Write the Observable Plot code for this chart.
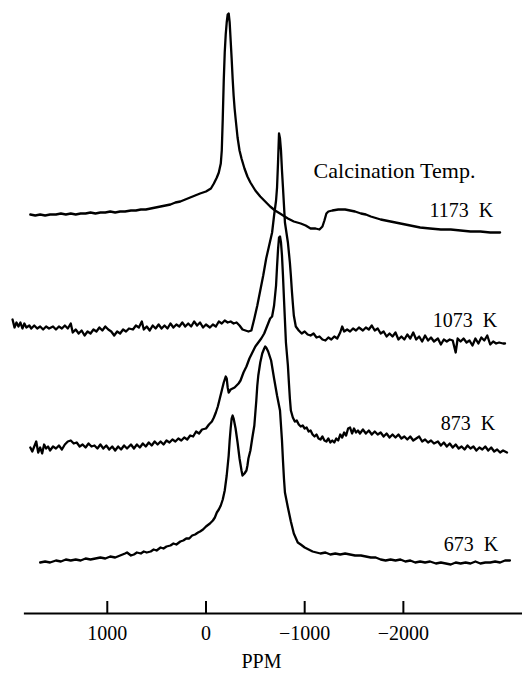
<!DOCTYPE html>
<html><head><meta charset="utf-8">
<script src="https://cdn.jsdelivr.net/npm/d3@7"></script>
<script src="https://cdn.jsdelivr.net/npm/@observablehq/plot@0.6"></script>
<style>html,body{margin:0;padding:0;background:#fff}</style>
</head><body><div id="chart"></div>
<script>
// Spectra labels, vertical offsets of each trace, and label placement
const series = ["1173 K", "1073 K", "873 K", "673 K"];
const offsets = [398, 285, 166, 52];
const labelY = [403, 293, 190, 69];
const labelPpm = [-2910, -2950, -2930, -2960];
const titleText = "Calcination Temp.";
const titlePpm = -1910;
const titleY = 443;
const xTicks = [1000, 0, -1000, -2000];
const xDomain = [2082, -3207];
const axisExtent = [1840, -3207];

// 1173 K
const ppm1173 = [1780,1730,1680,1630,1580,1520,1470,1420,1370,1320,
  1270,1220,1170,1120,1070,1020,970,920,870,820,
  760,710,660,610,560,510,460,410,360,310,
  260,210,160,110,60,0,-50,-80,-110,-130,
  -150,-160,-170,-180,-190,-200,-210,-220,-230,-240,
  -250,-260,-270,-280,-290,-300,-320,-340,-360,-390,
  -420,-450,-500,-550,-600,-650,-700,-750,-830,-890,
  -960,-1010,-1060,-1110,-1150,-1180,-1200,-1220,-1240,-1280,
  -1340,-1410,-1460,-1510,-1570,-1620,-1670,-1770,-1870,-1970,
  -2070,-2170,-2270,-2380,-2480,-2580,-2680,-2780,-2880,-2980];
const int1173 = [1,0,1,0,1,1,2,1,2,1,
  2,2,3,2,3,3,4,3,4,4,
  5,5,6,6,7,8,9,10,11,13,
  14,16,18,20,22,24,27,32,38,43,
  52,65,97,135,163,181,193,201,202,193,
  175,157,137,120,107,97,78,65,57,47,
  39,33,25,19,14,9,5,2,-3,-6,
  -8,-10,-13,-13,-14,-11,-5,2,4,5,
  6,6,5,4,2,1,-1,-4,-6,-8,
  -10,-12,-13,-14,-14,-15,-16,-16,-17,-17];

// 1073 K
const ppm1073 = [1960,1940,1920,1900,1880,1860,1840,1820,1790,1770,
  1740,1710,1680,1650,1620,1590,1550,1520,1490,1460,
  1430,1400,1370,1350,1320,1290,1260,1230,1200,1170,
  1140,1110,1080,1050,1020,990,960,930,900,870,
  840,810,780,740,710,680,650,630,600,570,
  540,510,480,450,420,390,360,330,300,270,
  240,210,180,150,120,90,60,30,0,-40,
  -70,-100,-130,-160,-190,-220,-250,-280,-310,-340,
  -370,-400,-430,-460,-490,-520,-550,-580,-610,-640,
  -670,-690,-710,-720,-730,-740,-750,-760,-770,-780,
  -800,-830,-850,-860,-870,-880,-890,-910,-940,-970,
  -1000,-1030,-1060,-1090,-1120,-1150,-1180,-1210,-1240,-1270,
  -1300,-1330,-1360,-1380,-1400,-1430,-1460,-1490,-1520,-1550,
  -1590,-1620,-1650,-1680,-1710,-1740,-1770,-1800,-1830,-1860,
  -1890,-1920,-1950,-1980,-2010,-2040,-2070,-2100,-2130,-2160,
  -2190,-2220,-2250,-2280,-2310,-2350,-2380,-2410,-2440,-2470,
  -2500,-2530,-2550,-2580,-2610,-2640,-2670,-2700,-2730,-2760,
  -2790,-2820,-2850,-2880,-2910,-2940,-2970,-3010,-3030];
const int1073 = [9,1,6,2,6,0,5,1,3,0,
  3,0,2,-1,2,0,2,-1,2,0,
  3,0,5,-4,-1,-5,-2,-7,-3,-5,
  -1,-3,1,-2,2,-1,-3,-7,-3,-5,
  -1,-3,0,-1,3,1,7,-1,2,-2,
  3,0,4,0,3,0,5,1,4,2,
  6,2,5,2,7,3,6,1,4,1,
  4,2,7,5,8,6,7,5,6,3,
  -1,-2,-3,-2,10,23,38,53,70,83,
  96,113,128,141,166,195,190,178,158,141,
  106,86,66,53,38,25,13,2,-2,-5,
  -3,-6,-7,-5,-9,-8,-11,-12,-9,-11,
  -8,-10,-4,2,-3,-1,-3,0,-2,1,
  -2,1,-1,3,-2,0,-5,-3,-8,-5,
  -8,-4,-11,-8,-11,-6,-10,-4,-11,-8,
  -13,-7,-12,-9,-13,-10,-16,-11,-13,-11,
  -12,-24,-10,-13,-10,-14,-12,-17,-10,-15,
  -9,-12,-7,-16,-13,-15,-14,-15,-15];

// 873 K
const ppm873 = [1780,1760,1740,1720,1700,1680,1660,1640,1620,1600,
  1580,1550,1520,1490,1460,1430,1400,1370,1340,1310,
  1280,1250,1220,1190,1160,1130,1100,1070,1040,1010,
  980,950,920,890,860,830,800,760,730,700,
  670,640,610,580,550,520,490,460,430,400,
  370,340,310,280,250,220,190,160,130,100,
  70,40,0,-30,-60,-80,-100,-120,-140,-160,
  -180,-200,-210,-220,-230,-250,-270,-290,-310,-330,
  -350,-380,-410,-440,-470,-500,-530,-560,-590,-610,
  -630,-650,-670,-690,-710,-720,-730,-740,-750,-760,
  -770,-780,-790,-800,-810,-830,-840,-850,-860,-880,
  -900,-920,-940,-960,-980,-1000,-1020,-1040,-1060,-1080,
  -1100,-1120,-1140,-1160,-1180,-1200,-1220,-1240,-1260,-1280,
  -1300,-1320,-1340,-1360,-1380,-1400,-1420,-1440,-1460,-1480,
  -1500,-1520,-1540,-1560,-1590,-1620,-1650,-1680,-1710,-1740,
  -1770,-1800,-1830,-1860,-1890,-1920,-1950,-1980,-2010,-2040,
  -2070,-2100,-2130,-2160,-2190,-2220,-2250,-2280,-2310,-2350,
  -2380,-2410,-2440,-2470,-2500,-2530,-2560,-2590,-2620,-2650,
  -2680,-2710,-2740,-2770,-2800,-2830,-2860,-2890,-2920,-2950,
  -2980,-3010,-3050];
const int873 = [0,-4,1,6,-5,0,-6,3,-1,1,
  -3,1,-1,2,-2,3,6,7,4,5,
  1,3,0,4,1,2,-1,3,-1,2,
  -2,1,-3,1,-2,2,-1,3,-1,3,
  0,4,1,5,2,6,3,6,3,7,
  5,8,6,9,7,10,8,12,11,16,
  14,18,19,23,26,30,35,41,49,57,
  65,71,69,60,55,58,59,60,62,64,
  67,75,81,89,95,101,105,109,114,119,
  124,129,131,142,162,181,198,210,211,205,
  192,172,149,127,105,82,65,49,37,30,
  26,27,23,21,22,19,20,16,17,13,
  11,13,9,8,11,7,6,9,5,7,
  5,9,7,13,10,15,12,19,20,14,
  19,15,17,14,18,14,17,13,16,13,
  15,11,14,10,13,10,13,9,11,8,
  11,7,9,11,6,8,5,7,4,6,
  2,5,1,4,0,3,-1,1,-2,2,
  -1,1,-3,0,-2,1,-3,0,-4,-2,
  -5,-3,-5];

// 673 K
const ppm673 = [1680,1630,1580,1520,1470,1420,1370,1320,1270,1220,
  1170,1120,1070,1020,970,920,870,820,800,760,
  730,700,660,630,600,560,530,500,460,430,
  400,360,330,300,260,230,200,170,140,110,
  80,60,30,0,-40,-70,-90,-110,-130,-150,
  -170,-190,-210,-230,-240,-250,-260,-270,-280,-300,
  -320,-340,-360,-370,-390,-410,-420,-430,-450,-470,
  -490,-510,-520,-530,-550,-570,-590,-600,-610,-630,
  -660,-690,-720,-750,-770,-780,-790,-800,-830,-860,
  -890,-930,-960,-1000,-1040,-1080,-1120,-1160,-1210,-1260,
  -1310,-1360,-1410,-1460,-1510,-1570,-1620,-1670,-1720,-1770,
  -1820,-1870,-1920,-1970,-2020,-2070,-2120,-2170,-2220,-2270,
  -2330,-2380,-2430,-2480,-2530,-2580,-2630,-2680,-2730,-2780,
  -2830,-2880,-2930,-2980,-3030,-3080];
const int673 = [-1,0,-1,1,0,2,1,2,1,3,
  2,3,4,3,5,4,6,8,9,6,
  7,9,8,10,9,10,12,11,14,13,
  15,16,18,17,20,21,23,23,26,27,
  29,30,32,35,38,41,44,49,52,56,
  62,71,86,106,121,133,143,146,143,133,
  119,103,91,86,88,91,96,103,111,124,
  136,161,176,186,199,208,213,215,214,210,
  201,183,166,151,121,101,83,69,54,40,
  28,19,17,14,12,10,9,8,9,7,
  8,7,8,7,6,6,5,4,4,2,
  1,2,1,2,0,1,-1,0,-1,0,
  -2,-1,-2,-3,-1,-2,-1,-2,0,-2,
  -1,-1,0,-1,1,1];

const spectra = [[ppm1173, int1173], [ppm1073, int1073], [ppm873, int873], [ppm673, int673]];
const rows = [];
spectra.forEach(([p, v], i) => p.forEach((x, j) => rows.push({series: series[i], ppm: x, y: offsets[i] + v[j]})));

const fmt = d => d < 0 ? "\u2212" + Math.abs(d) : String(d);

const chart = Plot.plot({
  width: 522, height: 674,
  marginTop: 0, marginBottom: 61, marginLeft: 0, marginRight: 0,
  style: {background: "#fff", color: "#000", fontFamily: "'Liberation Serif', 'DejaVu Serif', serif"},
  x: {domain: xDomain},
  y: {domain: [0, 613], axis: null},
  marks: [
    Plot.ruleY([0], {x1: axisExtent[0], x2: axisExtent[1], stroke: "#000", strokeWidth: 2}),
    Plot.ruleX(xTicks, {x: d => d, y1: 0, y2: 12, stroke: "#000", strokeWidth: 2}),
    Plot.axisX({ticks: xTicks, tickSize: 0, tickPadding: 12, tickFormat: fmt, fontSize: 20,
      label: "PPM", labelAnchor: "center", labelOffset: 54, labelArrow: "none"}),
    Plot.line(rows, {x: "ppm", y: "y", z: "series", stroke: "#000", strokeWidth: 2.3, strokeLinejoin: "round"}),
    Plot.text(series, {x: (d, i) => labelPpm[i], y: (d, i) => labelY[i], text: d => d.replace(" ", "\u2002"), textAnchor: "end", fontSize: 20, fill: "#000"}),
    Plot.text([titleText], {x: titlePpm, y: titleY, text: d => d, fontSize: 22, fill: "#000"})
  ]
});
document.getElementById("chart").appendChild(chart);
</script>
</body></html>
